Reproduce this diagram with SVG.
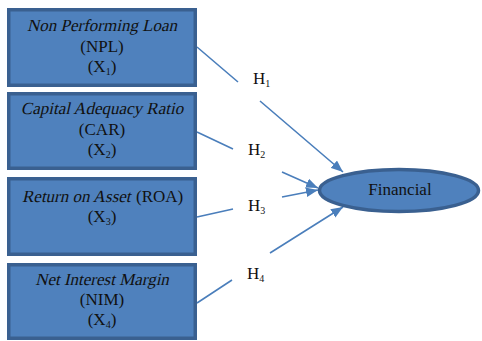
<svg xmlns="http://www.w3.org/2000/svg" width="482" height="341" viewBox="0 0 482 341">
<style>
.box{fill:#4f81bd;stroke:#3a6090;stroke-width:3.5}
.t{font-family:"Liberation Serif","Times New Roman",serif;font-size:17px;fill:#111}
.c{text-anchor:middle}
.sub{font-size:10px}
.conn{fill:none;stroke:#4a7ebb;stroke-width:1.6}
</style>
<defs>
<marker id="ah" viewBox="0 0 10 8" refX="10" refY="4" markerWidth="12" markerHeight="10" markerUnits="userSpaceOnUse" orient="auto">
<path d="M0,0 L10,4 L0,8 Z" fill="#4a7ebb"/>
</marker>
</defs>
<rect width="482" height="341" fill="#ffffff"/>
<g id="connectors">
<path class="conn" d="M197,47 L238,82 M260,101 L343,172" marker-end="url(#ah)"/>
<path class="conn" d="M197,132 L233,149 M282,172 L318,188" marker-end="url(#ah)"/>
<path class="conn" d="M197,217 L233,209 M282,197 L318,190" marker-end="url(#ah)"/>
<path class="conn" d="M197,303 L232,280 M270,253 L343,207" marker-end="url(#ah)"/>
<text class="t" x="253" y="84">H<tspan class="sub" dy="3">1</tspan></text>
<text class="t" x="248" y="155">H<tspan class="sub" dy="3">2</tspan></text>
<text class="t" x="248" y="211">H<tspan class="sub" dy="3">3</tspan></text>
<text class="t" x="247" y="279">H<tspan class="sub" dy="3">4</tspan></text>
</g>
<g id="npl">
<rect class="box" x="8.75" y="9.75" width="186.5" height="75.5"/>
<text class="t c" transform="translate(102,31) skewX(-13)" x="0" y="0">Non Performing Loan</text>
<text class="t c" x="102" y="52">(NPL)</text>
<text class="t c" x="102" y="72">(X<tspan class="sub" dy="3">1</tspan><tspan dy="-3">)</tspan></text>
</g>
<g id="car">
<rect class="box" x="8.75" y="93.75" width="186.5" height="74.5"/>
<text class="t c" transform="translate(102,114) skewX(-13)" x="0" y="0">Capital Adequacy Ratio</text>
<text class="t c" x="102" y="135">(CAR)</text>
<text class="t c" x="102" y="155">(X<tspan class="sub" dy="3">2</tspan><tspan dy="-3">)</tspan></text>
</g>
<g id="roa">
<rect class="box" x="8.75" y="178.75" width="186.5" height="75.5"/>
<text class="t" transform="translate(22,202) skewX(-13)" x="0" y="0">Return on Asset</text>
<text class="t" x="136" y="202">(ROA)</text>
<text class="t c" x="102" y="222">(X<tspan class="sub" dy="3">3</tspan><tspan dy="-3">)</tspan></text>
</g>
<g id="nim">
<rect class="box" x="8.75" y="264.75" width="186.5" height="73.5"/>
<text class="t c" transform="translate(102,285) skewX(-13)" x="0" y="0">Net Interest Margin</text>
<text class="t c" x="102" y="305">(NIM)</text>
<text class="t c" x="102" y="325">(X<tspan class="sub" dy="3">4</tspan><tspan dy="-3">)</tspan></text>
</g>
<g id="financial">
<ellipse class="box" cx="399" cy="190.5" rx="79.5" ry="21"/>
<text class="t c" x="400" y="195">Financial</text>
</g>
</svg>
